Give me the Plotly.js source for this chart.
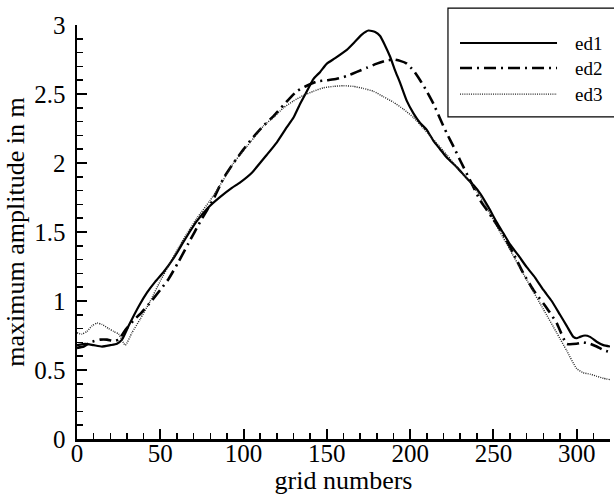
<!DOCTYPE html>
<html>
<head>
<meta charset="utf-8">
<script src="https://cdn.plot.ly/plotly-3.0.1.min.js"></script>
<style>html,body{margin:0;padding:0;background:#fff;}#chart{width:614px;height:498px;}</style>
</head>
<body>
<div id="chart"></div>
<script>
// ---- data ----
const seriesNames = ["ed1", "ed2", "ed3"];

const ed1X = [0,5,10,15,20,24,27,31,37,42,47,52,58,65,72,79,86,93,98,105,114,120,126,130,134,138,142,146,150,155,162,167,171,175,179,182,185,188,191,194,198,202,206,210,214,218,222,228,234,238,242,247,252,256,260,265,270,275,280,285,290,294,298,300,302,305,308,312,316,320];
const ed1Y = [0.68,0.69,0.68,0.67,0.68,0.69,0.72,0.82,0.96,1.06,1.14,1.21,1.31,1.45,1.58,1.68,1.755,1.82,1.86,1.93,2.06,2.15,2.26,2.33,2.43,2.52,2.61,2.66,2.72,2.76,2.82,2.88,2.93,2.96,2.95,2.92,2.85,2.77,2.67,2.58,2.45,2.36,2.29,2.24,2.16,2.1,2.04,1.97,1.89,1.84,1.78,1.68,1.57,1.49,1.41,1.33,1.245,1.17,1.08,1.0,0.9,0.82,0.74,0.73,0.74,0.75,0.74,0.705,0.68,0.67];

const ed2X = [0,4,8,14,18,22,25,29,34,39,44,50,55,61,67,74,82,88,94,100,106,112,118,124,132,138,144,150,156,162,168,174,180,185,190,194,198,202,206,210,214,218,222,226,230,237,242,246,250,256,262,268,274,282,288,294,300,304,308,312,316,320];
const ed2Y = [0.66,0.67,0.7,0.72,0.72,0.71,0.72,0.79,0.86,0.92,0.99,1.08,1.16,1.285,1.42,1.575,1.74,1.89,2.0,2.1,2.19,2.27,2.34,2.42,2.52,2.56,2.59,2.6,2.61,2.63,2.66,2.69,2.72,2.74,2.75,2.74,2.72,2.67,2.6,2.52,2.43,2.32,2.215,2.12,2.02,1.85,1.73,1.66,1.59,1.48,1.345,1.2,1.08,0.95,0.84,0.69,0.69,0.7,0.69,0.67,0.645,0.63];

const ed3X = [0,3,6,9,12,15,19,22,25,29,33,38,44,50,57,64,72,80,88,94,100,106,112,118,124,130,136,142,148,154,160,166,172,178,184,190,196,202,208,214,222,230,236,242,248,254,260,266,272,280,288,294,300,304,308,312,316,320];
const ed3Y = [0.77,0.76,0.78,0.82,0.84,0.83,0.8,0.78,0.76,0.68,0.77,0.87,1.0,1.145,1.3,1.45,1.6,1.73,1.88,2.0,2.09,2.18,2.27,2.33,2.4,2.45,2.49,2.52,2.545,2.555,2.56,2.555,2.54,2.52,2.48,2.44,2.39,2.33,2.25,2.17,2.06,1.94,1.86,1.76,1.63,1.5,1.37,1.24,1.11,0.94,0.77,0.64,0.51,0.48,0.47,0.455,0.44,0.43];

const xTitle = "grid numbers";
const yTitle = "maximum amplitude in m";

// ---- styles ----
const SERIF = "Liberation Serif";
const styles = [
  {color: "#000", width: 2.2, dash: "solid"},
  {color: "#000", width: 2.6, dash: "12px,5px,2px,5px"},
  {color: "#222", width: 1.4, dash: "1px,1.2px"}
];

const xs = [ed1X, ed2X, ed3X];
const ys = [ed1Y, ed2Y, ed3Y];

const traces = seriesNames.map((n, i) => ({
  type: "scatter", mode: "lines", name: n,
  x: xs[i], y: ys[i],
  line: {color: styles[i].color, width: styles[i].width, dash: styles[i].dash, shape: "spline", smoothing: 0.5},
  showlegend: false, hoverinfo: "skip"
}));

// custom legend (box, sample lines, labels) in paper coordinates
const legX0 = 0.696, legX1 = 1.02, legY0 = 0.778, legY1 = 1.041;
const legRowY = [0.9565, 0.896, 0.833];
const shapes = [{
  type: "rect", xref: "paper", yref: "paper",
  x0: legX0, x1: legX1, y0: legY0, y1: legY1,
  line: {color: "#000", width: 1.2}, fillcolor: "rgba(255,255,255,1)", layer: "above"
}];
const annotations = [];
seriesNames.forEach((n, i) => {
  shapes.push({
    type: "line", xref: "paper", yref: "paper",
    x0: 0.7186, x1: 0.9006, y0: legRowY[i], y1: legRowY[i],
    line: {color: styles[i].color, width: styles[i].width, dash: styles[i].dash}, layer: "above"
  });
  annotations.push({
    xref: "paper", yref: "paper", x: 0.931, y: legRowY[i],
    xanchor: "left", yanchor: "middle", showarrow: false,
    text: n, font: {family: SERIF, size: 19, color: "#000"}
  });
});

const layout = {
  width: 614, height: 498,
  margin: {l: 77, r: 4, t: 25, b: 59},
  paper_bgcolor: "#fff", plot_bgcolor: "#fff",
  font: {family: SERIF, color: "#000", size: 25},
  showlegend: false,
  xaxis: {
    range: [0, 320], dtick: 50, tick0: 0,
    showgrid: false, zeroline: false,
    showline: true, linecolor: "#000", linewidth: 2.5,
    ticks: "inside", ticklen: 10, tickwidth: 2, tickcolor: "#000",
    minor: {dtick: 10, ticks: "inside", ticklen: 6, tickwidth: 1.5, tickcolor: "#000", showgrid: false},
    tickfont: {family: SERIF, size: 25, color: "#000"},
    ticklabelstandoff: -10,
    title: {text: xTitle, font: {family: SERIF, size: 26, color: "#000"}, standoff: 0}
  },
  yaxis: {
    range: [0, 3], dtick: 0.5, tick0: 0,
    showgrid: false, zeroline: false,
    showline: true, linecolor: "#000", linewidth: 2.5,
    ticks: "inside", ticklen: 10, tickwidth: 2, tickcolor: "#000",
    minor: {dtick: 0.1, ticks: "inside", ticklen: 6, tickwidth: 1.5, tickcolor: "#000", showgrid: false},
    tickfont: {family: SERIF, size: 25, color: "#000"},
    ticklabelstandoff: 4,
    title: {text: yTitle, font: {family: SERIF, size: 26, color: "#000"}, standoff: 2}
  },
  shapes: shapes,
  annotations: annotations
};

Plotly.newPlot("chart", traces, layout, {displayModeBar: false, staticPlot: true});
</script>
</body>
</html>
